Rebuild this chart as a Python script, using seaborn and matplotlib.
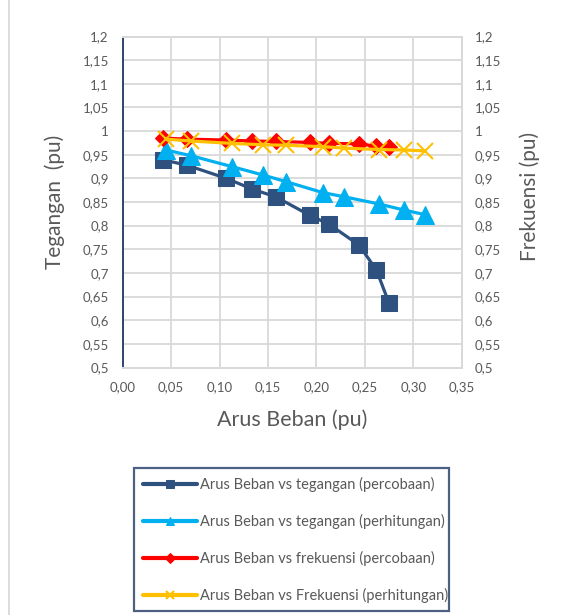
import numpy as np
import pandas as pd
import matplotlib
matplotlib.use("Agg")
import matplotlib.pyplot as plt
from matplotlib.ticker import FuncFormatter, MultipleLocator
from matplotlib.lines import Line2D
import seaborn as sns

# ---- data ----
x_percobaan = [0.042, 0.066, 0.107, 0.134, 0.158, 0.193, 0.213, 0.244, 0.262, 0.275]
v_percobaan = [0.939, 0.928, 0.900, 0.877, 0.861, 0.822, 0.803, 0.759, 0.706, 0.636]
f_percobaan = [0.985, 0.983, 0.981, 0.979, 0.978, 0.976, 0.974, 0.973, 0.968, 0.966]

x_perhitungan = [0.0445, 0.0703, 0.1124, 0.1450, 0.1687, 0.2064, 0.2287, 0.2643, 0.2904, 0.3126]
v_perhitungan = [0.960, 0.948, 0.925, 0.907, 0.893, 0.870, 0.861, 0.846, 0.833, 0.823]
f_perhitungan = [0.983, 0.979, 0.974, 0.971, 0.970, 0.967, 0.964, 0.961, 0.960, 0.958]

labels = [
    "Arus Beban vs tegangan (percobaan)",
    "Arus Beban vs tegangan (perhitungan)",
    "Arus Beban vs frekuensi (percobaan)",
    "Arus Beban vs Frekuensi (perhitungan)",
]
colors = ["#2E5180", "#00B0F0", "#FF0000", "#FFC000"]

x_title = "Arus Beban (pu)"
y_title = "Tegangan  (pu)"
y2_title = "Frekuensi (pu)"

sns.set_theme(style="white")
plt.rcParams["font.family"] = ["Lato", "DejaVu Sans"]

W, H = 569, 615
fig = plt.figure(figsize=(W / 100, H / 100), dpi=100)
fig.patch.set_facecolor("white")

L, R, T, B = 122.7, 461.7, 36.5, 367.5
ax = fig.add_axes([L / W, 1 - B / H, (R - L) / W, (B - T) / H])
ax2 = ax.twinx()

grid_c = "#D9D9D9"
txt_c = "#595959"

df1 = pd.DataFrame({"x": x_percobaan, "v": v_percobaan, "f": f_percobaan})
df2 = pd.DataFrame({"x": x_perhitungan, "v": v_perhitungan, "f": f_perhitungan})

lw = 2.3
sns.lineplot(data=df1, x="x", y="v", ax=ax, color=colors[0], marker="s", markersize=11.5,
             markeredgecolor=colors[0], linewidth=lw, label=labels[0], zorder=3, legend=False)
sns.lineplot(data=df2, x="x", y="v", ax=ax, color=colors[1], marker="^", markersize=12.5,
             markeredgecolor=colors[1], linewidth=lw, label=labels[1], zorder=4, legend=False)
sns.lineplot(data=df1, x="x", y="f", ax=ax2, color=colors[2], marker="D", markersize=8,
             markeredgecolor=colors[2], linewidth=lw, label=labels[2], zorder=3, legend=False)
sns.lineplot(data=df2, x="x", y="f", ax=ax2, color=colors[3], marker="x", markersize=11,
             markeredgecolor=colors[3], markeredgewidth=1.5, linewidth=lw, label=labels[3],
             zorder=4, legend=False)

for a in (ax, ax2):
    a.set_ylim(0.5, 1.2)
    a.yaxis.set_major_locator(MultipleLocator(0.05))
    a.set_xlabel("")
    a.set_ylabel("")

ax.set_xlim(0, 0.35)
ax.xaxis.set_major_locator(MultipleLocator(0.05))

yfmt = FuncFormatter(lambda v, p: ("{:g}".format(round(v, 2))).replace(".", ","))
xfmt = FuncFormatter(lambda v, p: "{:.2f}".format(v).replace(".", ","))
ax.yaxis.set_major_formatter(yfmt)
ax2.yaxis.set_major_formatter(yfmt)
ax.xaxis.set_major_formatter(xfmt)

ax.grid(True, color=grid_c, linewidth=1.3)
ax.set_axisbelow(True)
ax2.grid(False)

ax.tick_params(axis="y", length=0, pad=10, labelsize=9.5, labelcolor=txt_c)
ax.tick_params(axis="x", length=0, pad=10, labelsize=9.5, labelcolor=txt_c)
ax2.tick_params(axis="y", length=0, pad=9.5, labelsize=9.5, labelcolor=txt_c)

for a in (ax, ax2):
    for s in a.spines.values():
        s.set_color(grid_c)
        s.set_linewidth(1.3)
ax.spines["left"].set_color("#1F3864")
ax.spines["left"].set_linewidth(1.3)
ax2.spines["left"].set_visible(False)

fig.text(292 / W, 1 - 420 / H, x_title, ha="center", va="center", fontsize=15.5, color=txt_c)
fig.text(55 / W, 1 - 202 / H, y_title, ha="center", va="center", fontsize=15, color=txt_c,
         rotation=90)
fig.text(530 / W, 1 - 196 / H, y2_title, ha="center", va="center", fontsize=15, color=txt_c,
         rotation=90)

# legend
h1, _ = ax.get_legend_handles_labels()
h2, _ = ax2.get_legend_handles_labels()
handles = h1 + h2
lx0, ly0, lx1, ly1 = 134, 468, 449, 604
leg = fig.legend(handles, labels, loc="upper left",
                 bbox_to_anchor=(lx0 / W, 1 - ly1 / H, (lx1 - lx0) / W, (ly1 - ly0) / H),
                 mode="expand", fontsize=10.5, frameon=True, fancybox=False,
                 borderaxespad=0, borderpad=0.6, labelspacing=1.5,
                 handlelength=3.7, handletextpad=0.25, labelcolor=txt_c)
frame = leg.get_frame()
frame.set_edgecolor("#1F3864")
frame.set_linewidth(1.6)
frame.set_facecolor("white")
for hdl in leg.legend_handles:
    hdl.set_markersize(5.5)
    hdl.set_linewidth(3)

# chart-area left border
fig.add_artist(Line2D([9 / W, 9 / W], [0, 1], transform=fig.transFigure,
                      color=grid_c, linewidth=1.3))

fig.savefig("out.png", dpi=100, facecolor="white")
